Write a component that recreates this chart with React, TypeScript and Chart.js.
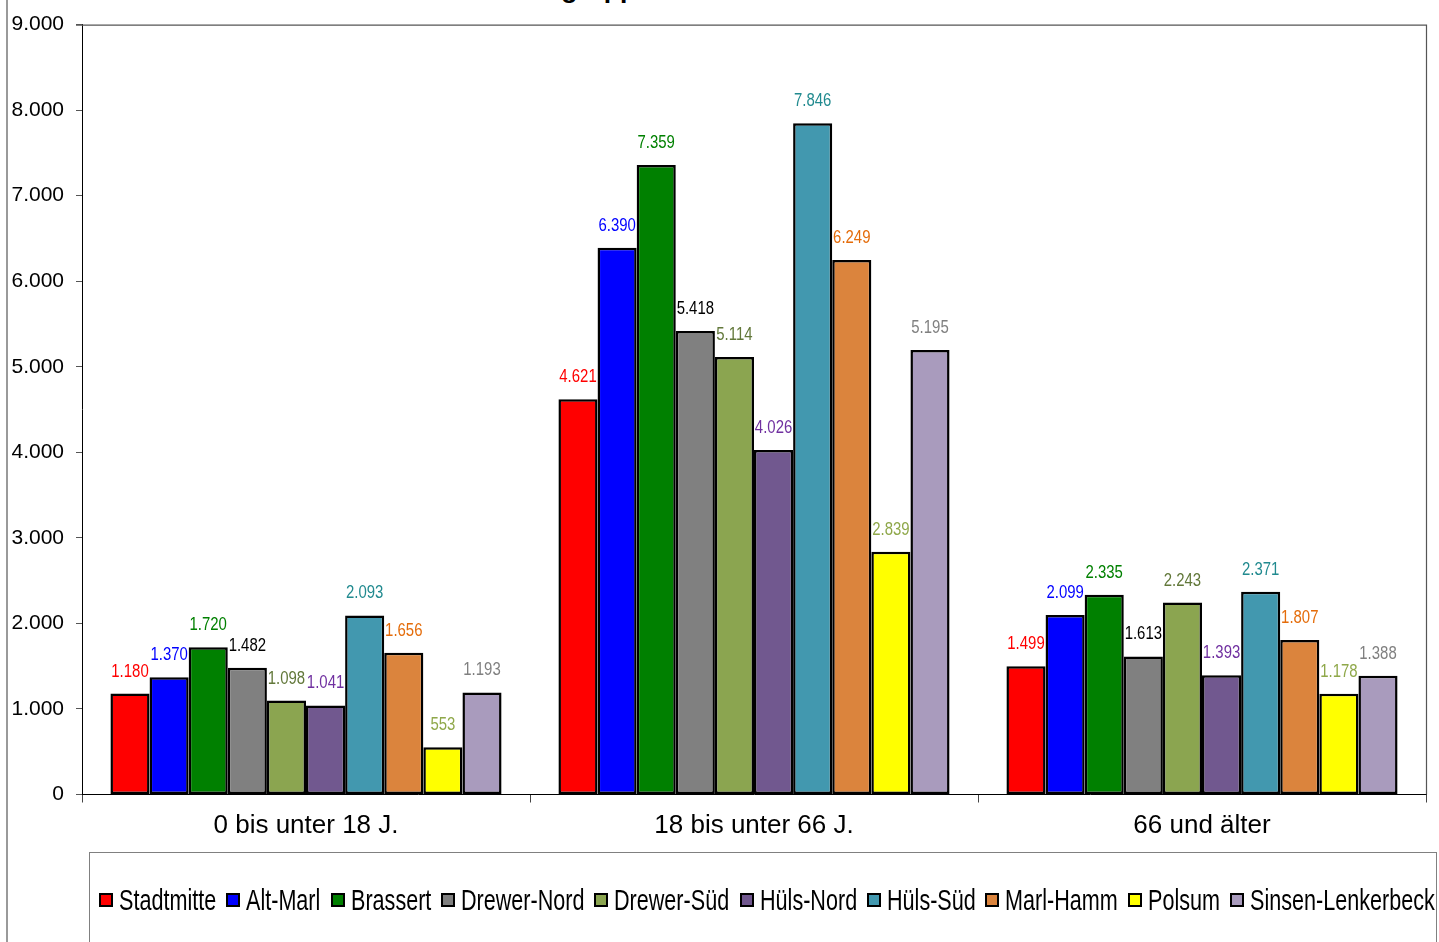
import React, { useEffect, useLayoutEffect, useRef } from "react";
import { Chart, registerables } from "chart.js";

Chart.register(...registerables);

const categories = ["0 bis unter 18 J.", "18 bis unter 66 J.", "66 und älter"];
const districts = [
  "Stadtmitte",
  "Alt-Marl",
  "Brassert",
  "Drewer-Nord",
  "Drewer-Süd",
  "Hüls-Nord",
  "Hüls-Süd",
  "Marl-Hamm",
  "Polsum",
  "Sinsen-Lenkerbeck",
];
const stadtmitte = [1180, 4621, 1499];
const altMarl = [1370, 6390, 2099];
const brassert = [1720, 7359, 2335];
const drewerNord = [1482, 5418, 1613];
const drewerSued = [1098, 5114, 2243];
const huelsNord = [1041, 4026, 1393];
const huelsSued = [2093, 7846, 2371];
const marlHamm = [1656, 6249, 1807];
const polsum = [553, 2839, 1178];
const sinsenLenkerbeck = [1193, 5195, 1388];
const seriesValues = [
  stadtmitte,
  altMarl,
  brassert,
  drewerNord,
  drewerSued,
  huelsNord,
  huelsSued,
  marlHamm,
  polsum,
  sinsenLenkerbeck,
];
const barColors = [
  "#FF0000",
  "#0000FF",
  "#008000",
  "#808080",
  "#8BA550",
  "#71588F",
  "#4298AF",
  "#DB843D",
  "#FFFF00",
  "#A99BBD",
];
const labelColors = [
  "#FF0000",
  "#0000FF",
  "#008000",
  "#000000",
  "#62783A",
  "#7030A0",
  "#218A8F",
  "#E46C0A",
  "#8FA84A",
  "#808080",
];
const yMin = 0;
const yMax = 9000;
const yStep = 1000;
const titleText = "Einwohner nach Altersgruppen";

const fmt = (n: number) => String(n).replace(/\B(?=(\d{3})+(?!\d))/g, ".");

const sans = "'Liberation Sans', Arial, sans-serif";
const legendTargetWidth = 1336;
const legendBox = 14;
const legendBoxGap = 6;
const legendItemGap = 10;

export default function App() {
  const canvasRef = useRef<HTMLCanvasElement | null>(null);
  const legendRef = useRef<HTMLDivElement | null>(null);

  useLayoutEffect(() => {
    const root = legendRef.current;
    if (!root) return;
    const texts = Array.from(root.querySelectorAll<HTMLSpanElement>("[data-t]"));
    const widths = texts.map((t) => t.getBoundingClientRect().width);
    const sum = widths.reduce((a, b) => a + b, 0);
    const n = districts.length;
    const k = (legendTargetWidth - n * (legendBox + legendBoxGap) - (n - 1) * legendItemGap) / sum;
    texts.forEach((t, i) => {
      const wrap = t.parentElement as HTMLElement;
      wrap.style.width = `${widths[i] * k}px`;
      t.style.transform = `scaleX(${k})`;
    });
  }, []);

  useEffect(() => {
    if (!canvasRef.current) return;

    const valueLabels = {
      id: "valueLabels",
      afterDatasetsDraw(chart: any) {
        const ctx = chart.ctx;
        chart.data.datasets.forEach((ds: any, i: number) => {
          const meta = chart.getDatasetMeta(i);
          meta.data.forEach((el: any, j: number) => {
            ctx.save();
            ctx.font = `18px ${sans}`;
            ctx.textAlign = "center";
            ctx.textBaseline = "middle";
            ctx.fillStyle = labelColors[i];
            ctx.translate(el.x, el.y - 22);
            ctx.scale(0.83, 1);
            ctx.fillText(fmt(ds.data[j]), 0, 0);
            ctx.restore();
          });
        });
      },
    };

    const frame = {
      id: "frame",
      beforeDatasetsDraw(chart: any) {
        const { ctx, chartArea } = chart;
        ctx.save();
        ctx.strokeStyle = "#555555";
        ctx.lineWidth = 1.2;
        ctx.beginPath();
        ctx.moveTo(chartArea.left - 6, chartArea.top + 0.5);
        ctx.lineTo(chartArea.right + 0.5, chartArea.top + 0.5);
        ctx.lineTo(chartArea.right + 0.5, chartArea.bottom);
        ctx.stroke();
        ctx.restore();
      },
      afterDraw(chart: any) {
        const { ctx } = chart;
        ctx.save();
        ctx.strokeStyle = "#9a9a9a";
        ctx.lineWidth = 2;
        ctx.beginPath();
        ctx.moveTo(7, 0);
        ctx.lineTo(7, chart.height);
        ctx.stroke();
        ctx.restore();
      },
    };

    const chart = new Chart(canvasRef.current, {
      type: "bar",
      data: {
        labels: categories,
        datasets: districts.map((name, i) => ({
          label: name,
          data: seriesValues[i],
          backgroundColor: barColors[i],
          borderColor: "#000000",
          borderWidth: 2.5,
          borderSkipped: false,
          categoryPercentage: 0.873,
          barPercentage: 1,
        })),
      },
      options: {
        animation: false,
        responsive: true,
        maintainAspectRatio: false,
        devicePixelRatio: 1,
        layout: { padding: { top: 23, right: 13, bottom: 66, left: 0 } },
        plugins: {
          title: { display: false },
          tooltip: { enabled: false },
          legend: { display: false },
        },
        scales: {
          x: {
            grid: {
              display: true,
              drawOnChartArea: false,
              drawTicks: true,
              tickLength: 8,
              color: "#444444",
              offset: true,
            },
            border: { display: true, color: "#000000", width: 1 },
            ticks: {
              color: "#000000",
              padding: 8,
              font: { family: sans, size: 26 },
            },
            afterFit(scale: any) {
              scale.height = 81.5;
            },
          },
          y: {
            min: yMin,
            max: yMax,
            ticks: {
              stepSize: yStep,
              color: "#000000",
              padding: 12,
              font: { family: sans, size: 21 },
              callback: (v: any) => fmt(Number(v)),
            },
            grid: {
              display: true,
              drawOnChartArea: false,
              drawTicks: true,
              tickLength: 6,
              color: "#555555",
            },
            border: { display: true, color: "#000000", width: 1 },
            afterFit(scale: any) {
              scale.width = 82;
            },
          },
        },
      },
      plugins: [valueLabels, frame],
    });

    return () => chart.destroy();
  }, []);

  return (
    <div
      style={{
        position: "absolute",
        left: 0,
        top: 0,
        width: 1439,
        height: 942,
        overflow: "hidden",
        background: "#ffffff",
      }}
    >
      <div
        style={{
          position: "absolute",
          left: 275,
          top: -24,
          font: `bold 26.5px ${sans}`,
          lineHeight: "26.5px",
          whiteSpace: "nowrap",
          color: "#000000",
        }}
      >
        {titleText}
      </div>
      <canvas ref={canvasRef} style={{ position: "absolute", left: 0, top: 0, width: 1439, height: 942 }} />
      <div
        style={{
          position: "absolute",
          left: 89,
          top: 852,
          width: 1348,
          height: 120,
          border: "1px solid #808080",
          boxSizing: "border-box",
        }}
      >
        <div
          ref={legendRef}
          style={{
            position: "absolute",
            left: 9,
            top: 32,
            height: 30,
            display: "flex",
            alignItems: "center",
            whiteSpace: "nowrap",
            font: `29px ${sans}`,
            lineHeight: "30px",
            color: "#000000",
          }}
        >
          {districts.map((name, i) => (
            <div
              key={name}
              style={{
                display: "flex",
                alignItems: "center",
                marginRight: i < districts.length - 1 ? legendItemGap : 0,
              }}
            >
              <span
                style={{
                  display: "inline-block",
                  width: legendBox,
                  height: legendBox,
                  boxSizing: "border-box",
                  border: "2.5px solid #000000",
                  background: barColors[i],
                  marginRight: legendBoxGap,
                }}
              />
              <span style={{ display: "inline-block", height: 30, overflow: "visible" }}>
                <span data-t="1" style={{ display: "inline-block", transformOrigin: "left center" }}>
                  {name}
                </span>
              </span>
            </div>
          ))}
        </div>
      </div>
    </div>
  );
}
